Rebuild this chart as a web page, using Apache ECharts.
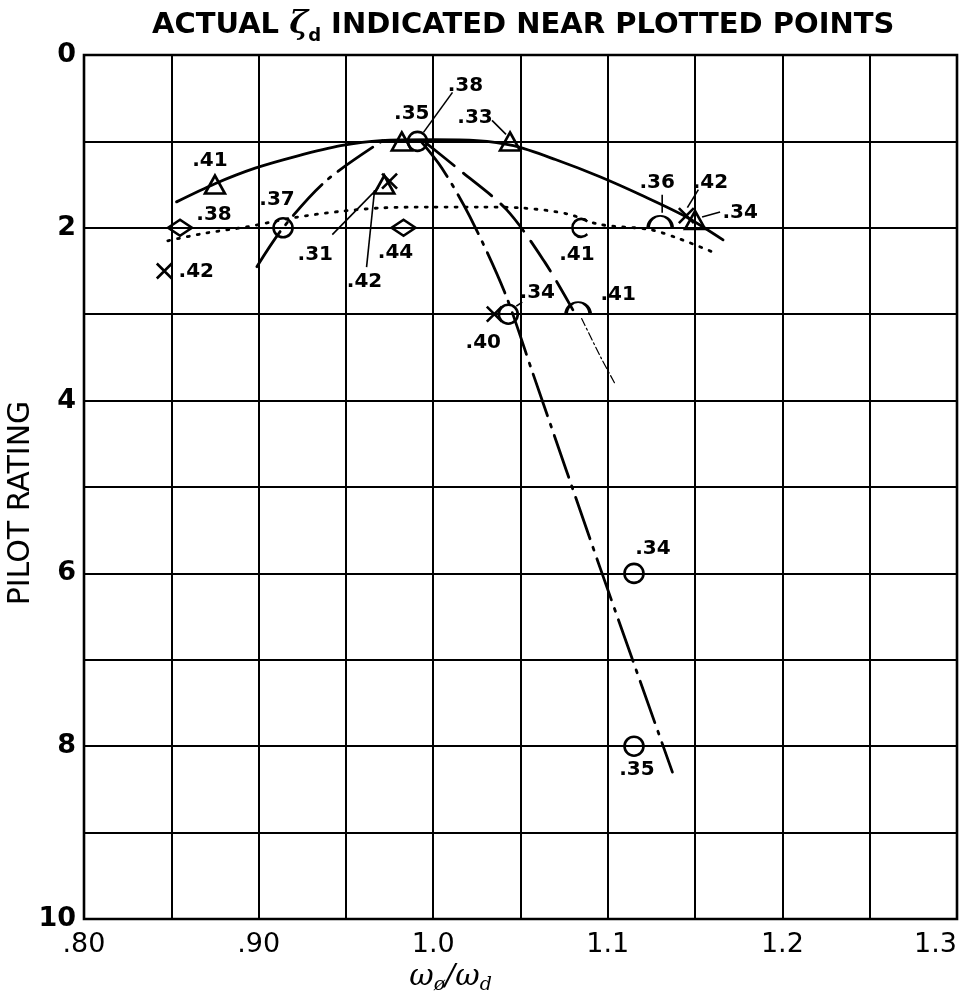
<!DOCTYPE html>
<html>
<head>
<meta charset="utf-8">
<title>Pilot rating vs frequency ratio</title>
<script src="https://cdn.jsdelivr.net/npm/echarts@6/dist/echarts.min.js"></script>
<style>
  html, body { margin: 0; padding: 0; background: #fff; }
  #chart { width: 964px; height: 1007px; }
</style>
</head>
<body>
<div id="chart"></div>
<script>
// Measured points: [frequency ratio, pilot rating, actual damping ratio]
const triangles = [[0.875, 1.5, '.41'], [0.982, 1.0, '.35'], [1.044, 1.0, '.33'], [0.972, 1.5, '.31'], [1.150, 1.91, '.34']];
const circles   = [[0.991, 1.0, '.38'], [0.914, 2.0, '.37'], [1.043, 3.0, '.34'], [1.115, 6.0, '.34'], [1.115, 8.0, '.35']];
const crosses   = [[0.846, 2.5, '.42'], [0.975, 1.46, '.42'], [1.035, 3.0, '.40'], [1.145, 1.86, '.42']];
const diamonds  = [[0.855, 2.0, '.38'], [0.983, 2.0, '.44']];
const domes     = [[1.083, 3.0, '.41'], [1.130, 2.0, '.36']];
const hooks     = [[1.084, 2.0, '.41']];

// Faired curves: [frequency ratio, pilot rating]
const solidCurve = [[0.853, 1.70], [0.875, 1.49], [0.898, 1.31], [0.922, 1.17], [0.947, 1.05], [0.970, 0.99], [1.000, 0.98], [1.025, 0.99], [1.046, 1.05], [1.070, 1.21], [1.0955, 1.41], [1.120, 1.63], [1.145, 1.875], [1.166, 2.14]];
const dottedCurve = [[0.848, 2.15], [0.870, 2.06], [0.893, 1.99], [0.921, 1.88], [0.947, 1.81], [0.970, 1.77], [1.000, 1.76], [1.027, 1.76], [1.051, 1.77], [1.077, 1.84], [1.095, 1.96], [1.124, 2.02], [1.140, 2.12], [1.160, 2.28]];
const dashedCurve = [[0.996, 1.02], [1.015, 1.33], [1.042, 1.79], [1.064, 2.40], [1.080, 2.95]];
const dashedTail = [[1.085, 3.05], [1.096, 3.50], [1.104, 3.80]];
const dashDotLeft = [[0.899, 2.45], [0.914, 2.00], [0.939, 1.45], [0.972, 0.98]];
const dashDotRight = [[0.993, 1.00], [1.005, 1.31], [1.021, 1.87], [1.041, 2.75], [1.057, 3.68], [1.0955, 5.93], [1.137, 8.30]];

// Axis ticks
const xTickValues = [0.80, 0.90, 1.00, 1.10, 1.20, 1.30];
const xTickLabels = ['.80', '.90', '1.0', '1.1', '1.2', '1.3'];
const yTickValues = [0, 2, 4, 6, 8, 10];
const yTickLabels = ['0', '2', '4', '6', '8', '10'];

// Label placement (pixel offsets from each mark)
const labelOffsets = {
  triangles: [[-5, -24], [10, -28], [-35, -24], [-69, 70], [45, -7]],
  circles:   [[48, -56], [-6, -28], [29, -21], [19, -25], [3, 24]],
  crosses:   [[32, 1], [-25, 101], [-11, 29], [24, -33]],
  diamonds:  [[34, -13], [-8, 25]],
  domes:     [[40, -13], [-3, -39]],
  hooks:     [[-3, 27]]
};

// Leader lines: [mark group, index, start dx, start dy, end dx, end dy] in pixels
const leaders = [
  ['triangles', 2, -18, -21, -4, -7],
  ['triangles', 3, -52, 50, -6, 3],
  ['triangles', 4, 25, -8, 7, -3],
  ['circles', 0, 35, -49, 6, -9],
  ['circles', 2, 8, -8, 14, -12],
  ['crosses', 1, -23, 86, -15, 9],
  ['crosses', 3, 12, -26, 1, -8],
  ['domes', 1, 2, -33, 2, -15]
];

const groups = { triangles, circles, crosses, diamonds, domes, hooks };
const FONT = 'DejaVu Sans';

function tickText(values, labels, v) {
  for (let i = 0; i < values.length; i++) {
    if (Math.abs(values[i] - v) < 1e-6) return labels[i];
  }
  return '';
}

function curve(data, width, type) {
  return {
    type: 'line', data: data, showSymbol: false, symbol: 'none',
    smooth: 0.3, z: 2, silent: true,
    lineStyle: { color: '#000', width: width, type: type, cap: 'round', opacity: 1 }
  };
}

function marks(name, symbol, size, extra) {
  return Object.assign({
    type: 'scatter', z: 4, symbol: symbol, symbolSize: size,
    itemStyle: { color: 'rgba(0,0,0,0)', borderColor: '#000', borderWidth: 2.6, opacity: 1 },
    data: groups[name].map((p, i) => ({
      value: p,
      label: { offset: labelOffsets[name][i] }
    })),
    label: {
      show: true, position: 'inside', color: '#000',
      fontFamily: FONT, fontWeight: 'bold', fontSize: 20, formatter: (d) => d.value[2]
    }
  }, extra || {});
}

const leaderData = leaders.map(l => {
  const p = groups[l[0]][l[1]];
  return [p[0], p[1], l[2], l[3], l[4], l[5]];
});

const chart = echarts.init(document.getElementById('chart'));
chart.setOption({
  backgroundColor: '#fff',
  animation: false,
  title: {
    text: '{a|ACTUAL }{z|ζ}{s|d}{a| INDICATED NEAR PLOTTED POINTS}',
    left: 147, top: 0,
    textStyle: {
      rich: {
        a: { fontFamily: FONT, fontWeight: 'bold', fontSize: 29, lineHeight: 40, color: '#000' },
        z: { fontFamily: 'DejaVu Serif', fontStyle: 'italic', fontWeight: 'bold', fontSize: 32, lineHeight: 40, color: '#000' },
        s: { fontFamily: FONT, fontWeight: 'bold', fontSize: 18, lineHeight: 18, verticalAlign: 'bottom', color: '#000' }
      }
    }
  },
  grid: {
    left: 84, top: 55, width: 873, height: 864,
    outerBoundsMode: 'none', containLabel: false,
    show: true, borderColor: '#000', borderWidth: 2.6, backgroundColor: 'rgba(0,0,0,0)'
  },
  xAxis: {
    type: 'value', min: 0.8, max: 1.3, interval: 0.05,
    name: '{w|ω}{s|ø}{w|/ω}{s|d}',
    nameLocation: 'middle', nameGap: 40, nameMoveOverlap: false,
    nameTextStyle: {
      padding: [0, 140, 0, 0],
      rich: {
        w: { fontFamily: 'DejaVu Serif', fontStyle: 'italic', fontSize: 30, lineHeight: 36, color: '#000' },
        s: { fontFamily: 'DejaVu Serif', fontStyle: 'italic', fontSize: 19, lineHeight: 19, verticalAlign: 'bottom', color: '#000' }
      }
    },
    axisLine: { show: false },
    axisTick: { show: false },
    axisLabel: {
      margin: 12, color: '#000', fontFamily: FONT, fontSize: 27,
      alignMaxLabel: 'right', hideOverlap: false,
      formatter: (v) => tickText(xTickValues, xTickLabels, v)
    },
    splitLine: { show: true, lineStyle: { color: '#000', width: 2 } }
  },
  yAxis: {
    type: 'value', min: 0, max: 10, interval: 1, inverse: true,
    name: 'PILOT RATING', nameLocation: 'middle', nameGap: 48, nameMoveOverlap: false,
    nameTextStyle: { fontFamily: FONT, fontSize: 30, color: '#000', padding: [0, 32, 0, 0] },
    axisLine: { show: false },
    axisTick: { show: false },
    axisLabel: {
      margin: 8, color: '#000', fontFamily: FONT, fontWeight: 'bold', fontSize: 27,
      formatter: (v) => tickText(yTickValues, yTickLabels, v)
    },
    splitLine: { show: true, lineStyle: { color: '#000', width: 2 } }
  },
  series: [
    curve(solidCurve, 2.8, 'solid'),
    curve(dottedCurve, 2.8, [2, 8]),
    curve(dashedCurve, 2.8, [36, 12]),
    curve(dashedTail, 1.2, [8, 3, 2, 3]),
    curve(dashDotLeft, 2.8, [42, 9, 3, 9]),
    curve(dashDotRight, 2.8, [44, 9, 3, 9]),
    {
      type: 'custom', z: 3, silent: true,
      data: leaderData,
      encode: { x: 0, y: 1 },
      renderItem: (params, api) => {
        const p = api.coord([api.value(0), api.value(1)]);
        return {
          type: 'line',
          shape: {
            x1: p[0] + api.value(2), y1: p[1] + api.value(3),
            x2: p[0] + api.value(4), y2: p[1] + api.value(5)
          },
          style: { stroke: '#000', lineWidth: 1.6 }
        };
      }
    },
    marks('triangles', 'triangle', [20, 18]),
    marks('circles', 'circle', 19),
    marks('crosses', 'path://M0,0 L10,10 M10,0 L0,10', 15),
    marks('diamonds', 'diamond', [24, 16]),
    marks('domes', 'path://M0,10 A10,10 0 0 1 20,10 Z', [24, 12], { symbolOffset: [0, -6] }),
    marks('hooks', 'path://M17,3 A10,10 0 1 0 17,17', [15, 18])
  ]
});
</script>
</body>
</html>
